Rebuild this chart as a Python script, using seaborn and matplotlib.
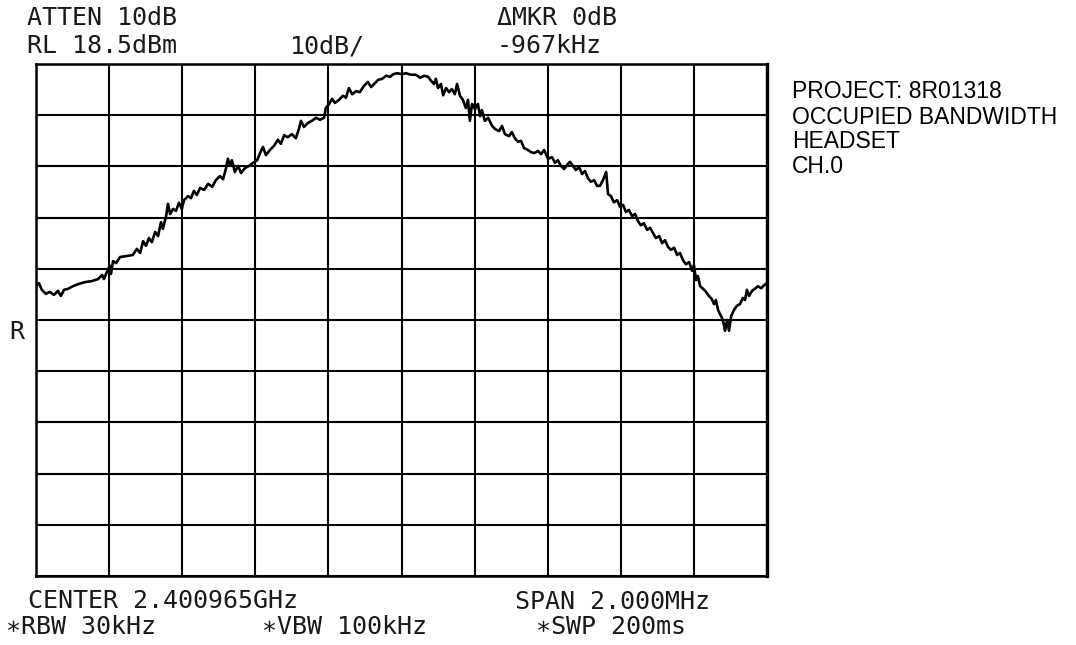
import matplotlib
matplotlib.use("Agg")
import matplotlib.pyplot as plt
import seaborn as sns

# Trace: frequency offset from centre (MHz) and measured level (dBm)
freq_mhz = [
    -1.000, -0.992, -0.984, -0.973, -0.962, -0.951, -0.940, -0.932, -0.923, -0.912,
    -0.899, -0.885, -0.866, -0.847, -0.830, -0.819, -0.814, -0.806, -0.798, -0.795,
    -0.789, -0.781, -0.770, -0.751, -0.735, -0.724, -0.715, -0.707, -0.699, -0.691,
    -0.683, -0.674, -0.666, -0.658, -0.653, -0.644, -0.639, -0.633, -0.625, -0.617,
    -0.609, -0.601, -0.595, -0.584, -0.576, -0.568, -0.560, -0.551, -0.540, -0.529,
    -0.518, -0.508, -0.497, -0.488, -0.480, -0.475, -0.469, -0.464, -0.456, -0.447,
    -0.439, -0.428, -0.417, -0.406, -0.395, -0.387, -0.379, -0.371, -0.360, -0.349,
    -0.338, -0.330, -0.321, -0.311, -0.300, -0.289, -0.280, -0.275, -0.267, -0.256,
    -0.245, -0.234, -0.223, -0.212, -0.207, -0.198, -0.190, -0.182, -0.171, -0.160,
    -0.152, -0.144, -0.135, -0.124, -0.114, -0.103, -0.092, -0.083, -0.072, -0.064,
    -0.053, -0.042, -0.031, -0.023, -0.012, 0.001, 0.012, 0.026, 0.040, 0.051,
    0.062, 0.073, 0.081, 0.089, 0.094, 0.100, 0.108, 0.114, 0.122, 0.130,
    0.138, 0.146, 0.152, 0.160, 0.168, 0.176, 0.182, 0.187, 0.193, 0.201,
    0.209, 0.215, 0.220, 0.228, 0.237, 0.248, 0.256, 0.267, 0.275, 0.283,
    0.294, 0.302, 0.311, 0.319, 0.327, 0.335, 0.346, 0.354, 0.363, 0.374,
    0.382, 0.390, 0.401, 0.412, 0.420, 0.428, 0.436, 0.445, 0.453, 0.461,
    0.469, 0.477, 0.486, 0.494, 0.502, 0.510, 0.518, 0.527, 0.535, 0.543,
    0.551, 0.560, 0.565, 0.573, 0.581, 0.590, 0.598, 0.606, 0.614, 0.622,
    0.631, 0.639, 0.647, 0.655, 0.663, 0.672, 0.680, 0.688, 0.696, 0.705,
    0.713, 0.721, 0.729, 0.737, 0.746, 0.754, 0.762, 0.770, 0.778, 0.787,
    0.795, 0.800, 0.806, 0.811, 0.817, 0.825, 0.833, 0.841, 0.849, 0.855,
    0.860, 0.866, 0.871, 0.877, 0.882, 0.885, 0.891, 0.896, 0.902, 0.910,
    0.918, 0.926, 0.934, 0.940, 0.945, 0.951, 0.959, 0.967, 0.975, 0.984,
    0.992, 1.000,
]
level_dbm = [
    -24.9, -24.3, -25.6, -26.4, -26.0, -26.6, -25.8, -26.8, -25.6, -25.4,
    -24.9, -24.5, -24.1, -23.9, -23.5, -22.7, -23.5, -22.1, -20.9, -22.5,
    -20.0, -20.4, -19.2, -19.0, -18.8, -17.6, -18.4, -16.1, -17.0, -15.5,
    -16.3, -14.3, -15.1, -12.4, -13.7, -11.2, -8.8, -10.8, -9.8, -10.2,
    -8.6, -9.8, -8.1, -7.3, -7.7, -6.3, -7.1, -5.7, -6.1, -4.9,
    -5.5, -4.2, -3.4, -4.0, -1.8, 0.0, -1.4, -0.3, -2.6, -1.4,
    -2.8, -1.8, -1.4, -0.8, -0.3, 1.1, 2.3, 0.7, 1.7, 2.5,
    3.7, 2.9, 4.6, 4.2, 4.8, 4.0, 6.0, 7.4, 6.2, 7.0,
    7.4, 8.0, 7.6, 8.0, 9.9, 10.7, 11.7, 10.9, 11.5, 12.3,
    11.9, 13.8, 12.6, 13.2, 13.0, 14.2, 15.0, 14.0, 14.8, 15.4,
    15.6, 16.2, 16.0, 16.5, 16.7, 16.5, 16.7, 16.4, 16.4, 15.8,
    16.2, 16.0, 15.2, 14.6, 15.6, 13.8, 14.6, 12.4, 13.8, 13.0,
    13.6, 12.6, 14.6, 12.3, 11.5, 9.9, 11.5, 7.4, 10.7, 9.7,
    10.7, 8.3, 9.5, 7.4, 8.0, 6.4, 5.8, 5.4, 6.4, 4.8,
    4.4, 5.2, 3.9, 3.3, 3.5, 2.1, 1.7, 1.3, 1.1, 1.5,
    0.9, 1.7, 0.0, 0.3, -0.8, -0.3, -1.4, -2.0, -1.2, -0.6,
    -1.4, -2.2, -1.6, -3.0, -2.4, -3.8, -4.5, -4.2, -5.3, -5.3,
    -4.2, -2.6, -6.9, -7.3, -8.5, -8.1, -9.4, -9.0, -10.4, -10.0,
    -11.2, -10.8, -12.2, -13.0, -12.6, -13.9, -13.5, -14.5, -15.5, -15.1,
    -16.5, -15.9, -17.2, -17.8, -17.4, -18.8, -18.4, -19.8, -20.6, -20.2,
    -21.9, -20.8, -23.7, -22.9, -24.9, -25.4, -26.0, -26.8, -27.4, -28.4,
    -27.6, -29.5, -30.3, -31.1, -32.3, -33.6, -31.5, -33.6, -30.7, -29.5,
    -28.7, -28.4, -27.2, -27.6, -25.6, -26.8, -25.8, -25.4, -24.9, -25.3,
    -24.7, -24.3,
]

ref_level = 18.5
db_per_div = 10
n_div = 10
span_mhz = 2.0

top_left = ["ATTEN 10dB", "RL 18.5dBm"]
scale_label = "10dB/"
marker_lines = ["\u0394MKR 0dB", "-967kHz"]
bottom_lines = ["CENTER 2.400965GHz", "SPAN 2.000MHz"]
bw_labels = ["\u2217RBW 30kHz", "\u2217VBW 100kHz", "\u2217SWP 200ms"]
note_lines = ["PROJECT: 8R01318", "OCCUPIED BANDWIDTH", "HEADSET", "CH.0"]

sns.set_style("white")
plt.rcParams["font.family"] = ["DejaVu Sans Mono", "DejaVu Sans"]

W, H = 1076, 645
fig = plt.figure(figsize=(W / 100, H / 100), dpi=100)
fig.patch.set_facecolor("white")

x0, x1, y0, y1 = 36, 767, 64, 576
ax = fig.add_axes([x0 / W, 1 - y1 / H, (x1 - x0) / W, (y1 - y0) / H])

sns.lineplot(x=freq_mhz, y=level_dbm, ax=ax, estimator=None, sort=False,
             color="black", linewidth=1.9)

ax.set_xlim(-span_mhz / 2, span_mhz / 2)
ax.set_ylim(ref_level - n_div * db_per_div, ref_level)
ax.set_xticks([-span_mhz / 2 + i * span_mhz / n_div for i in range(n_div + 1)])
ax.set_yticks([ref_level - i * db_per_div for i in range(n_div + 1)])
ax.grid(True, color="black", linewidth=1.5)
ax.tick_params(length=0, labelbottom=False, labelleft=False)
ax.set_xlabel("")
ax.set_ylabel("")
for sp in ax.spines.values():
    sp.set_visible(True)
    sp.set_color("black")
    sp.set_linewidth(1.8)
ax.spines["right"].set_linewidth(2.4)


def px_text(x, y, s, **kw):
    fig.text(x / W, 1 - y / H, s, ha="left", va="center", **kw)


mono = dict(fontsize=18, color="#1a1a1a", family=["DejaVu Sans Mono", "DejaVu Sans"])
px_text(27, 18, top_left[0], **mono)
px_text(27, 46, top_left[1], **mono)
px_text(290, 46, scale_label, **mono)
px_text(497, 18, marker_lines[0], **mono)
px_text(497, 46, marker_lines[1], **mono)
px_text(28, 601, bottom_lines[0], **mono)
px_text(515, 602, bottom_lines[1], **mono)
px_text(6, 627, bw_labels[0], **mono)
px_text(262, 627, bw_labels[1], **mono)
px_text(536, 627, bw_labels[2], **mono)
px_text(9, 332, "R", **mono)

sans = dict(fontsize=16.5, color="black", family=["Liberation Sans", "DejaVu Sans"])
for i, line in enumerate(note_lines):
    px_text(792, 92 + 25 * i, line, **sans)

fig.savefig("out.png", dpi=100, facecolor="white")
